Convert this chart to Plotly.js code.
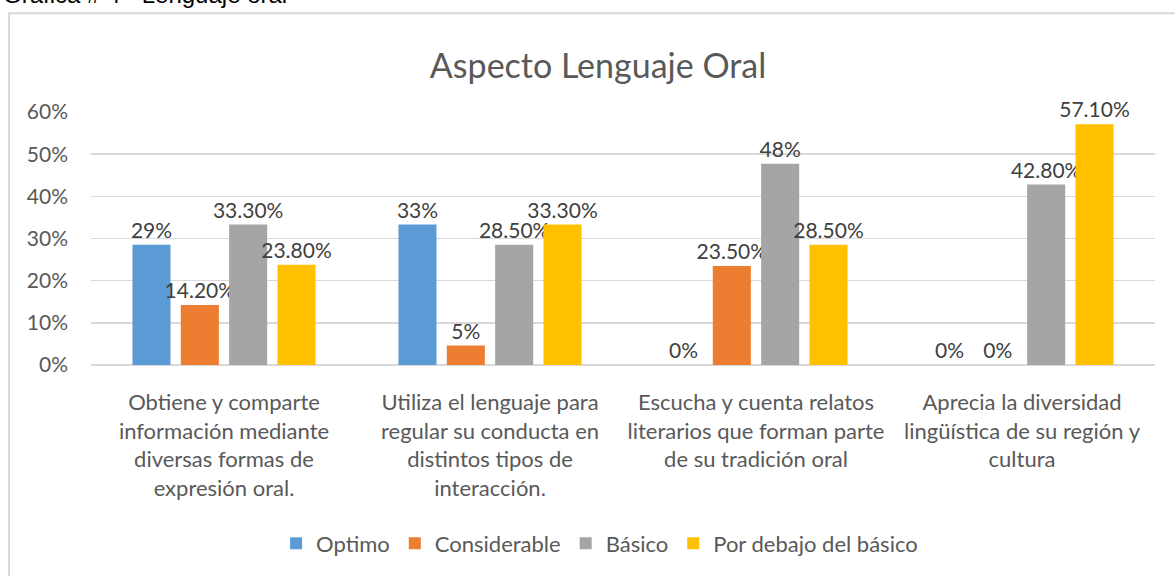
<!DOCTYPE html>
<html>
<head>
<meta charset="utf-8">
<script src="https://cdn.plot.ly/plotly-3.0.1.min.js"></script>
<style>
    html, body { margin: 0; padding: 0; background: #fff; }
    #chart { width: 1175px; height: 576px; }
</style>
</head>
<body>
<div id="chart"></div>
<script>
// Chart data
const categories = [
    'Obtiene y comparte<br>información mediante<br>diversas formas de<br>expresión oral.',
    'Utiliza el lenguaje para<br>regular su conducta en<br>distintos tipos de<br>interacción.',
    'Escucha y cuenta relatos<br>literarios que forman parte<br>de su tradición oral',
    'Aprecia la diversidad<br>lingüística de su región y<br>cultura'
];
const seriesNames = ['Optimo', 'Considerable', 'Básico', 'Por debajo del básico'];
const optimo = [0.285, 0.333, 0, 0];
const considerable = [0.142, 0.046, 0.235, 0];
const basico = [0.333, 0.285, 0.477, 0.428];
const debajo = [0.238, 0.333, 0.285, 0.571];
const optimoLabels = ['29%', '33%', '0%', '0%'];
const considerableLabels = ['14.20%', '5%', '23.50%', '0%'];
const basicoLabels = ['33.30%', '28.50%', '48%', '42.80%'];
const debajoLabels = ['23.80%', '33.30%', '28.50%', '57.10%'];
const yTicks = [0, 0.1, 0.2, 0.3, 0.4, 0.5, 0.6];
const yTickLabels = ['0%', '10%', '20%', '30%', '40%', '50%', '60%'];

const colors = ['#5b9bd5', '#ed7d31', '#a5a5a5', '#ffc000'];
const font = 'Lato, "Open Sans", sans-serif';

// Build one bar trace per series
function makeTrace(name, values, labels, color) {
    return {
        type: 'bar',
        name: name,
        x: categories,
        y: values,
        text: labels,
        textposition: 'outside',
        constraintext: 'none',
        cliponaxis: false,
        textfont: { family: font, size: 21, color: '#404040' },
        marker: { color: color },
        hoverinfo: 'x+y'
    };
}

const data = [
    makeTrace(seriesNames[0], optimo, optimoLabels, colors[0]),
    makeTrace(seriesNames[1], considerable, considerableLabels, colors[1]),
    makeTrace(seriesNames[2], basico, basicoLabels, colors[2]),
    makeTrace(seriesNames[3], debajo, debajoLabels, colors[3])
];

const layout = {
    width: 1175,
    height: 576,
    margin: { l: 91, r: 20, t: 112, b: 209 },
    paper_bgcolor: '#ffffff',
    plot_bgcolor: '#ffffff',
    font: { family: font, color: '#595959' },
    title: {
        text: 'Aspecto Lenguaje Oral',
        font: { family: font, size: 34, color: '#595959' },
        x: 0.509,
        xanchor: 'center',
        y: 0.885,
        yanchor: 'middle'
    },
    barmode: 'group',
    bargap: 0.273,
    bargroupgap: 0.213,
    showlegend: true,
    legend: {
        orientation: 'h',
        x: 0.478,
        xanchor: 'center',
        y: -0.705,
        yanchor: 'middle',
        font: { family: font, size: 22, color: '#595959' },
        itemwidth: 30,
        traceorder: 'normal'
    },
    xaxis: {
        type: 'category',
        tickfont: { family: font, size: 22, color: '#595959' },
        showgrid: false,
        showline: false,
        zeroline: false,
        tickangle: 0,
        ticklabelstandoff: 22,
        automargin: false
    },
    yaxis: {
        range: [0, 0.6],
        tickvals: yTicks,
        ticktext: yTickLabels,
        tickfont: { family: font, size: 21, color: '#595959' },
        showgrid: true,
        gridcolor: '#d9d9d9',
        gridwidth: 1.5,
        zeroline: true,
        zerolinecolor: '#d9d9d9',
        zerolinewidth: 1.5,
        showline: false,
        ticklabelstandoff: 22,
        automargin: false
    },
    shapes: [{
        type: 'rect',
        xref: 'paper',
        yref: 'paper',
        x0: -0.0771,
        x1: 1.05,
        y0: -1.0,
        y1: 1.390,
        line: { color: '#d9d9d9', width: 2 },
        fillcolor: 'rgba(0,0,0,0)',
        layer: 'below'
    }],
    annotations: [{
        text: 'Gráfica # 4 - Lenguaje oral',
        xref: 'paper',
        yref: 'paper',
        x: -0.085,
        xanchor: 'left',
        y: 1.405,
        yanchor: 'bottom',
        showarrow: false,
        font: { family: 'Liberation Sans, Arial, sans-serif', size: 24, color: '#000000' }
    }]
};

Plotly.newPlot('chart', data, layout, { displayModeBar: false, staticPlot: true });
</script>
</body>
</html>
